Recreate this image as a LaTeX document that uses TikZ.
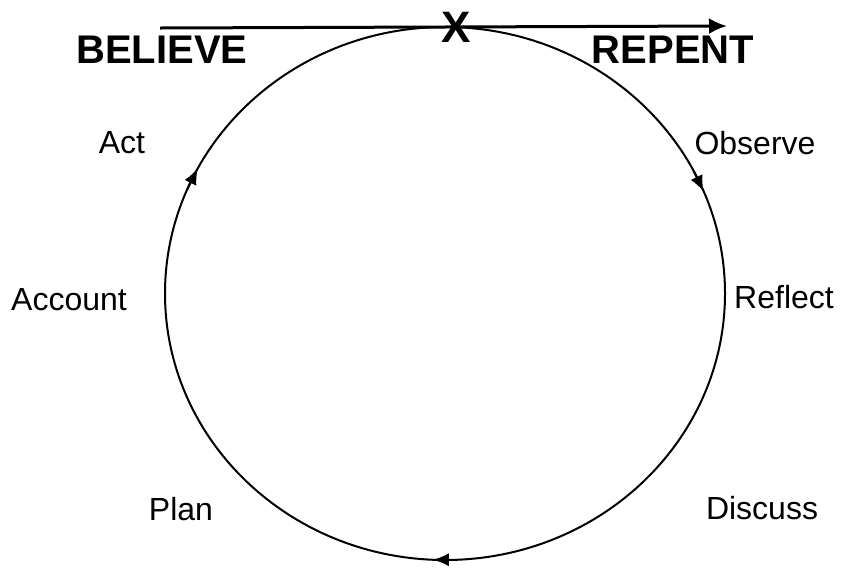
\documentclass[tikz,border=0pt]{standalone}
\usepackage{fontspec}
\setmainfont{Liberation Sans}
\usepackage{xcolor}
\usetikzlibrary{arrows.meta}
\definecolor{figline}{RGB}{0,0,0}
\tikzset{
  cyc/.style  ={draw=figline, line width=1pt},
  tip/.style  ={draw=figline, line width=1pt, -{Latex[length=8pt,width=6.5pt]}},
  ptr/.style  ={draw=figline, line width=1.5pt, -{Latex[length=9pt,width=8pt]}},
  lab/.style  ={font=\fontsize{16}{18}\selectfont, inner sep=1pt},
  labb/.style ={font=\fontsize{20}{23}\selectfont\bfseries, inner sep=1pt},
}

\begin{document}
\begin{tikzpicture}[x=0.5pt,y=-0.5pt]
  \useasboundingbox (0,0) rectangle (850,569);
  \draw[cyc] (445,293.5) ellipse [x radius=280, y radius=266.5];
  \draw[tip] ({445+280*cos(157)},{293.5-266.5*sin(157)}) -- ({445+280*cos(152)},{293.5-266.5*sin(152)});
  \draw[tip] ({445+280*cos(27.5)},{293.5-266.5*sin(27.5)}) -- ({445+280*cos(22.5)},{293.5-266.5*sin(22.5)});
  \draw[tip] ({445+280*cos(272.5)},{293.5-266.5*sin(272.5)}) -- ({445+280*cos(267.5)},{293.5-266.5*sin(267.5)});
  \coordinate (lstart) at (160,28);
  \coordinate (lend) at (727,26);
  \draw[ptr] (lstart) -- (lend);
  \node[font=\fontsize{22}{24}\selectfont\bfseries, inner sep=0pt] (cross) at (456,27) {X};
  \node[labb] (believe) at (162,50) {BELIEVE};
  \node[labb] (repent) at (673,50) {REPENT};
  \node[lab] (act) at (122,143) {Act};
  \node[lab] (observe) at (755,143) {Observe};
  \node[lab] (account) at (69,300) {Account};
  \node[lab] (reflect) at (784,297) {Reflect};
  \node[lab] (plan) at (181,509) {Plan};
  \node[lab] (discuss) at (762,508) {Discuss};
\end{tikzpicture}
\end{document}
